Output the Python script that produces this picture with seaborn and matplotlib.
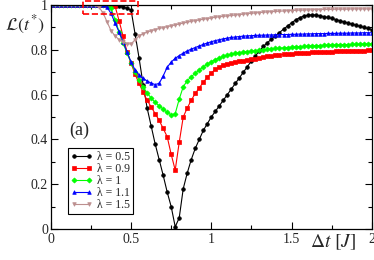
import numpy as np
import pandas as pd
import matplotlib
matplotlib.use("Agg")
import matplotlib.pyplot as plt
import matplotlib.patches as patches
from matplotlib.ticker import MultipleLocator
import seaborn as sns

# time step grid (Delta t in units of J)
dt = np.linspace(0, 2, 81)

loschmidt_05 = [1.0] * 16 + [
    0.997, 0.994, 0.99, 0.985, 0.977, 0.87, 0.762, 0.645, 0.54, 0.46,
    0.38, 0.31, 0.24, 0.165, 0.10, 0.01, 0.05, 0.18, 0.25, 0.31,
    0.36, 0.40, 0.44, 0.47, 0.50, 0.525, 0.55, 0.575, 0.60, 0.625,
    0.65, 0.675, 0.70, 0.725, 0.75, 0.773, 0.795, 0.815, 0.832, 0.847,
    0.862, 0.877, 0.892, 0.906, 0.92, 0.933, 0.943, 0.95, 0.954, 0.956,
    0.955, 0.952, 0.948, 0.944, 0.94, 0.935, 0.93, 0.925, 0.92, 0.915,
    0.91, 0.905, 0.90, 0.895, 0.89]

loschmidt_09 = [1.0] * 16 + [
    0.995, 0.93, 0.86, 0.79, 0.74, 0.69, 0.65, 0.61, 0.575, 0.545,
    0.515, 0.485, 0.449, 0.412, 0.333, 0.263, 0.387, 0.50, 0.54, 0.575,
    0.605, 0.63, 0.655, 0.677, 0.697, 0.712, 0.722, 0.73, 0.736, 0.741,
    0.745, 0.749, 0.752, 0.755, 0.758, 0.761, 0.764, 0.767, 0.77, 0.772,
    0.775, 0.777, 0.779, 0.781, 0.783, 0.784, 0.785, 0.786, 0.787, 0.788,
    0.789, 0.79, 0.791, 0.792, 0.792, 0.793, 0.793, 0.794, 0.794, 0.795,
    0.795, 0.796, 0.796, 0.797, 0.797]

loschmidt_10 = [1.0] * 14 + [
    0.998, 0.985, 0.935, 0.88, 0.83, 0.785, 0.742, 0.70, 0.665, 0.635,
    0.607, 0.585, 0.565, 0.55, 0.535, 0.521, 0.509, 0.515, 0.58, 0.635,
    0.662, 0.68, 0.695, 0.71, 0.724, 0.736, 0.747, 0.756, 0.764, 0.77,
    0.776, 0.78, 0.784, 0.787, 0.79, 0.792, 0.794, 0.796, 0.798, 0.80,
    0.802, 0.804, 0.806, 0.807, 0.809, 0.81, 0.812, 0.813, 0.814, 0.815,
    0.816, 0.817, 0.818, 0.819, 0.82, 0.82, 0.821, 0.822, 0.822, 0.823,
    0.823, 0.824, 0.824, 0.825, 0.825, 0.826, 0.826]

loschmidt_11 = [1.0] * 13 + [
    0.999, 0.99, 0.962, 0.92, 0.88, 0.835, 0.79, 0.745, 0.71, 0.688,
    0.672, 0.661, 0.651, 0.645, 0.65, 0.683, 0.722, 0.745, 0.762, 0.774,
    0.785, 0.795, 0.803, 0.81, 0.817, 0.824, 0.83, 0.836, 0.841, 0.845,
    0.849, 0.852, 0.855, 0.857, 0.859, 0.861, 0.862, 0.863, 0.864, 0.865,
    0.865, 0.866, 0.866, 0.867, 0.867, 0.868, 0.868, 0.869, 0.869, 0.87,
    0.87, 0.871, 0.871, 0.872, 0.872, 0.872, 0.873, 0.873, 0.873, 0.874,
    0.874, 0.874, 0.875, 0.875, 0.875, 0.876, 0.876, 0.876]

loschmidt_15 = [1.0] * 11 + [
    0.998, 0.99, 0.965, 0.925, 0.885, 0.862, 0.845, 0.834, 0.826, 0.826,
    0.845, 0.862, 0.872, 0.879, 0.885, 0.89, 0.895, 0.899, 0.903, 0.907,
    0.911, 0.915, 0.919, 0.923, 0.927, 0.93, 0.933, 0.936, 0.939, 0.942,
    0.945, 0.947, 0.949, 0.951, 0.953, 0.955, 0.957, 0.959, 0.961, 0.963,
    0.964, 0.966, 0.967, 0.969, 0.97, 0.971, 0.972, 0.973, 0.974, 0.975,
    0.976, 0.977, 0.977, 0.978, 0.978, 0.979, 0.979, 0.98, 0.98, 0.98,
    0.981, 0.981, 0.981, 0.981, 0.982, 0.982, 0.982, 0.982, 0.982, 0.982]

labels = ["λ = 0.5", "λ = 0.9", "λ = 1", "λ = 1.1", "λ = 1.5"]
colors = ["black", "#ff0000", "#00ff00", "#0000ff", "#bc8f8f"]
markers = ["o", "s", "D", "^", "v"]

xticks = [0, 0.5, 1, 1.5, 2]
xticklabels = ["0", "0.5", "1", "1.5", "2"]
yticks = [0, 0.2, 0.4, 0.6, 0.8, 1]
yticklabels = ["0", "0.2", "0.4", "0.6", "0.8", "1"]

data = pd.DataFrame({
    "dt": dt,
    labels[0]: loschmidt_05,
    labels[1]: loschmidt_09,
    labels[2]: loschmidt_10,
    labels[3]: loschmidt_11,
    labels[4]: loschmidt_15,
})

sns.set_theme(style="ticks")
plt.rcParams["font.family"] = ["Liberation Serif", "DejaVu Serif"]
plt.rcParams["mathtext.fontset"] = "stix"

fig = plt.figure(figsize=(3.74, 2.6), dpi=100)
ax = fig.add_axes([0.136, 0.119, 0.858, 0.862])

for lab, c, m in zip(labels, colors, markers):
    sns.lineplot(data=data, x="dt", y=lab, ax=ax, color=c, marker=m,
                 markersize=2.6, markeredgecolor=c, markeredgewidth=0.5,
                 linewidth=0.8, label=lab)

ax.set_xlim(0, 2)
ax.set_ylim(0, 1)
ax.set_xticks(xticks)
ax.set_xticklabels(xticklabels)
ax.set_yticks(yticks)
ax.set_yticklabels(yticklabels)
ax.xaxis.set_minor_locator(MultipleLocator(0.25))
ax.yaxis.set_minor_locator(MultipleLocator(0.1))
ax.tick_params(which="both", direction="in", top=True, right=True,
               labelsize=10, color="black", width=0.8)
ax.tick_params(which="major", length=5)
ax.tick_params(which="minor", length=3)
ax.tick_params(axis="y", pad=2)
ax.tick_params(axis="x", pad=3)
ax.set_xlabel("")
ax.set_ylabel("")
for sp in ax.spines.values():
    sp.set_color("black")
    sp.set_linewidth(0.9)

# dashed box around the early-time plateau
ax.add_patch(patches.Rectangle((0.2, 0.96), 0.345, 0.058, fill=False,
                               edgecolor="red", linestyle="--",
                               linewidth=1.2, clip_on=False, zorder=5))

ax.text(0.175, 0.44, "(a)", fontsize=13, ha="center", va="center")
fig.text(0.065, 0.905, r"$\mathcal{L}(t^{*})$", fontsize=13,
         ha="center", va="center")
fig.text(0.89, 0.069, r"$\Delta t\ [J]$", fontsize=14,
         ha="center", va="center")

leg = ax.legend(loc="upper left", bbox_to_anchor=(0.053, 0.362),
                fancybox=False, edgecolor="black", framealpha=1,
                fontsize=8.5, numpoints=2, handlelength=1.8,
                borderpad=0.25, labelspacing=0.0, handletextpad=0.4,
                borderaxespad=0)
leg.get_frame().set_linewidth(0.8)

fig.savefig("out.png", dpi=100)
